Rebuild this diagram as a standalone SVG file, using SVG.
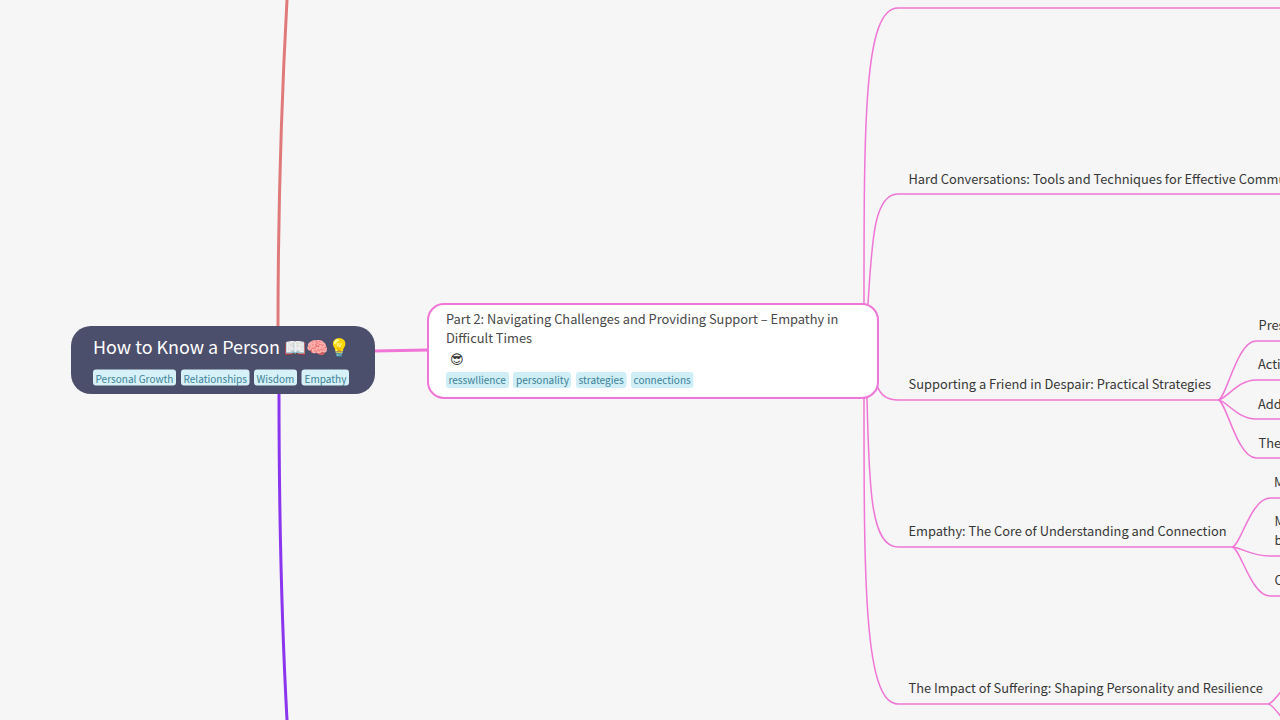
<svg xmlns="http://www.w3.org/2000/svg" width="1280" height="720" viewBox="0 0 1280 720">
<style>
text{font-family:"Noto Sans CJK SC","Noto Sans",sans-serif}
.c{fill:none;stroke:#f075d6;stroke-width:1.5}
.t{font-size:12.85px;fill:#363636}
.p{fill:#484848}
.tag{font-size:10.05px;fill:#3c8199}
.tb{fill:#cfeef6}
.tb2{fill:#d6f1f8}
</style>
<rect width="1280" height="720" fill="#f6f6f6"/>
<g id="connectors">
<path d="M287 0C281 110 278 220 278 327" fill="none" stroke="#e07a7a" stroke-width="3"/>
<path d="M279 393C279 500 281 610 287 720" fill="none" stroke="#8b35ee" stroke-width="3"/>
<path d="M374 351L428 350" fill="none" stroke="#f075d6" stroke-width="3"/>
<path class="c" d="M864 304C864 120 864 8 898 8L1280 8"/>
<path class="c" d="M868 304C872 240 874 194 898 194L1280 194"/>
<path class="c" d="M877 385C880 395 886 400 898 400L1218 400"/>
<path class="c" d="M867 398C869 490 871 547 898 547L1232 547"/>
<path class="c" d="M864 398C864 580 864 704 898 704L1268 704"/>
<path class="c" d="M1218 400C1226 400 1237 341 1256 341L1280 341"/>
<path class="c" d="M1218 400C1226 400 1237 380 1256 380L1280 380"/>
<path class="c" d="M1218 400C1226 400 1237 419 1256 419L1280 419"/>
<path class="c" d="M1218 400C1226 400 1237 458 1256 458L1280 458"/>
<path class="c" d="M1232 547C1240 547 1251 498 1270 498L1280 498"/>
<path class="c" d="M1232 547C1240 547 1251 556 1270 556L1280 556"/>
<path class="c" d="M1232 547C1240 547 1251 596 1270 596L1280 596"/>
<path class="c" d="M1268 704C1276 704 1287 674 1306 674"/>
<path class="c" d="M1268 704C1276 704 1287 734 1306 734"/>
</g>
<g id="root">
<rect x="71" y="326" width="304" height="68" rx="20" fill="#4c4f6b"/>
<text x="93" y="354" font-size="17.900px" fill="#fff">How to Know a Person 📖🧠💡</text>
<rect class="tb2" x="93" y="369.500" width="83" height="16" rx="3"/>
<text class="tag" x="95.500" y="382.500">Personal Growth</text>
<rect class="tb2" x="181" y="369.500" width="68.500" height="16" rx="3"/>
<text class="tag" x="183.500" y="382.500">Relationships</text>
<rect class="tb2" x="254" y="369.500" width="43" height="16" rx="3"/>
<text class="tag" x="256.500" y="382.500">Wisdom</text>
<rect class="tb2" x="301.500" y="369.500" width="47.500" height="16" rx="3"/>
<text class="tag" x="304.500" y="382.500">Empathy</text>
</g>
<g id="part2">
<rect x="428" y="304" width="450" height="94" rx="16" fill="#fff" stroke="#f075d6" stroke-width="2"/>
<text class="t p" x="446" y="324">Part 2: Navigating Challenges and Providing Support – Empathy in</text>
<text class="t p" x="446" y="343">Difficult Times</text>
<text x="450" y="364" font-size="13px" fill="#333" style="font-family:'DejaVu Sans',sans-serif">😎&#xFE0E;</text>
<rect class="tb" x="446" y="372" width="63" height="16" rx="3"/>
<text class="tag" x="448.500" y="384">resswllience</text>
<rect class="tb" x="513" y="372" width="58" height="16" rx="3"/>
<text class="tag" x="516" y="384">personality</text>
<rect class="tb" x="576" y="372" width="50.500" height="16" rx="3"/>
<text class="tag" x="578.500" y="384">strategies</text>
<rect class="tb" x="631" y="372" width="62.500" height="16" rx="3"/>
<text class="tag" x="633.500" y="384">connections</text>
</g>
<g id="n-hard"><text class="t" x="908.500" y="183.600">Hard Conversations: Tools and Techniques for Effective Communication</text></g>
<g id="n-friend"><text class="t" x="908.500" y="389.400">Supporting a Friend in Despair: Practical Strategies</text></g>
<g id="n-empathy"><text class="t" x="908.500" y="536">Empathy: The Core of Understanding and Connection</text></g>
<g id="n-impact"><text class="t" x="908.500" y="692.500">The Impact of Suffering: Shaping Personality and Resilience</text></g>
<g id="n-pres"><text class="t" x="1258.500" y="330">Pres</text></g>
<g id="n-acti"><text class="t" x="1258" y="369">Acti</text></g>
<g id="n-add"><text class="t" x="1258" y="408.500">Add</text></g>
<g id="n-the"><text class="t" x="1258.500" y="447.500">The</text></g>
<g id="n-m1"><text class="t" x="1274" y="487">M</text></g>
<g id="n-m2"><text class="t" x="1274.500" y="526">M</text><text class="t" x="1274.500" y="545">b</text></g>
<g id="n-c"><text class="t" x="1274.500" y="584.500">C</text></g>
</svg>
